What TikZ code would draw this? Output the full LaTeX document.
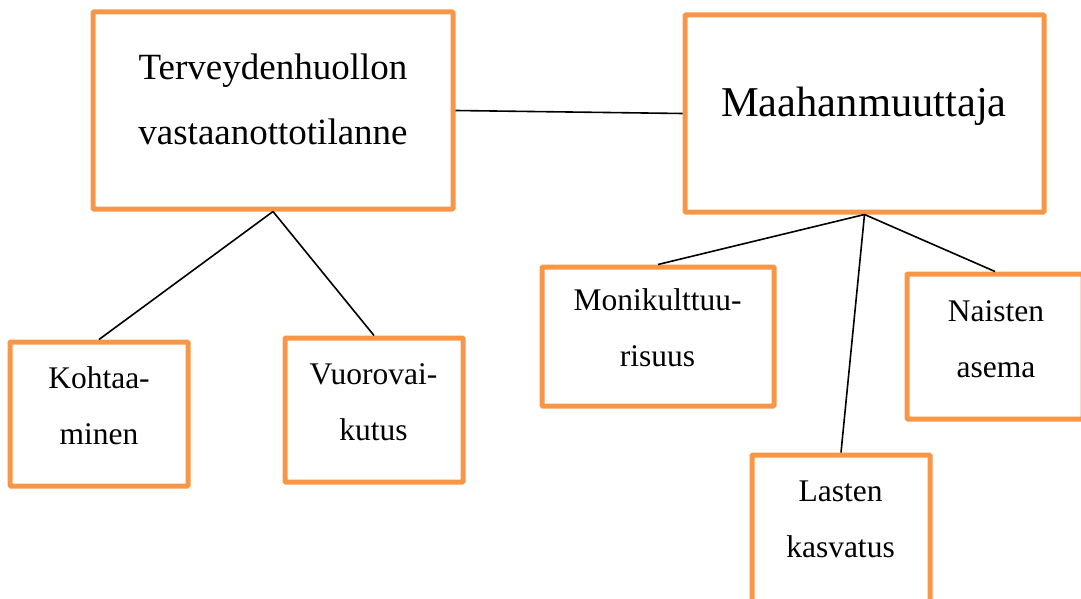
\documentclass[tikz,border=0pt]{standalone}
\usepackage{fontspec}
\setmainfont{Liberation Serif}
\definecolor{boxorange}{HTML}{F79646}
\begin{document}
\begin{tikzpicture}[x=1pt,y=-1pt,
  boxframe/.style={draw=boxorange,line width=5pt,rounded corners=1pt},
  bigtext/.style={anchor=base,align=center,inner sep=0pt,font=\fontsize{37}{65}\selectfont},
  hugetext/.style={anchor=base,align=center,inner sep=0pt,font=\fontsize{42.5}{65}\selectfont},
  smalltext/.style={anchor=base,align=center,inner sep=0pt,font=\fontsize{31.5}{56}\selectfont},
  link/.style={draw=black,line width=1.6pt}]
\useasboundingbox (0,0) rectangle (1081,599);
\begin{scope}
\clip (0,0) rectangle (1081,599);
% boxes
\node[boxframe,minimum width=360pt,minimum height=197pt,inner sep=0pt] (terv) at (273,110.5) {};
\node[boxframe,minimum width=359pt,minimum height=197pt,inner sep=0pt] (maah) at (864.5,113.5) {};
\node[boxframe,minimum width=178pt,minimum height=144pt,inner sep=0pt] (koht) at (99,414) {};
\node[boxframe,minimum width=178pt,minimum height=144pt,inner sep=0pt] (vuor) at (374,410) {};
\node[boxframe,minimum width=232pt,minimum height=139pt,inner sep=0pt] (moni) at (658,336.5) {};
\node[boxframe,minimum width=176pt,minimum height=145pt,inner sep=0pt] (nais) at (995,346.5) {};
\node[boxframe,minimum width=178pt,minimum height=150pt,inner sep=0pt] (last) at (841,530) {};
% texts (anchor base = baseline of the last line)
\node[bigtext] (tervt) at (273,145) {Terveydenhuollon\\vastaanottotilanne};
\node[hugetext] (maaht) at (864,117) {Maahanmuuttaja};
\node[smalltext] (kohtt) at (99,444) {Kohtaa-\\minen};
\node[smalltext] (vuort) at (373.5,440) {Vuorovai-\\kutus};
\node[smalltext] (monit) at (657.5,366) {Monikulttuu-\\risuus};
\node[smalltext] (naist) at (996,377) {Naisten\\asema};
\node[smalltext] (lastt) at (840.5,557) {Lasten\\kasvatus};
% connectors
\draw[link] (terv.east) -- (maah.west);
\draw[link] (terv.south) -- (koht.north);
\draw[link] (terv.south) -- (vuor.north);
\draw[link] (maah.south) -- (moni.north);
\draw[link] (maah.south) -- (nais.north);
\draw[link] (maah.south) -- (last.north);
\end{scope}
\end{tikzpicture}
\end{document}
